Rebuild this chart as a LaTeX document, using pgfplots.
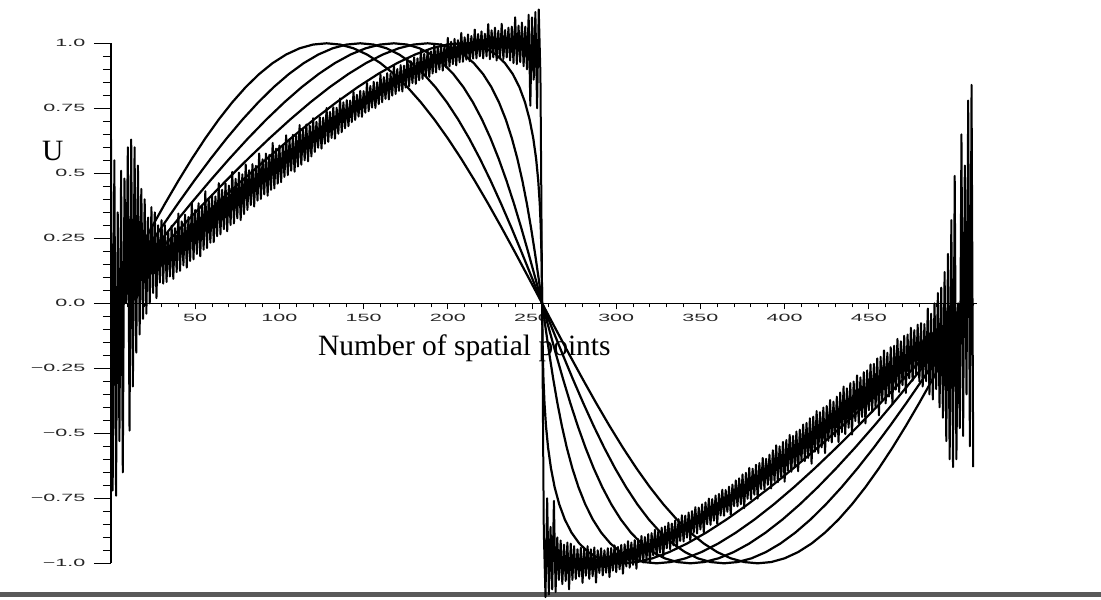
\documentclass[border=0pt]{standalone}
\usepackage{fontspec}
\setmainfont{Liberation Serif}
\newfontfamily\tickfont{Liberation Sans}
\usepackage{pgfplots}
\pgfplotsset{compat=1.18}

\begin{document}
\begin{tikzpicture}
\useasboundingbox (0pt,0pt) rectangle (1101pt,-600pt);
% rule along the foot of the page
\fill[black!65] (0pt,-592pt) rectangle (1101pt,-597pt);
\begin{axis}[
  at={(111pt,-303.3pt)}, anchor=origin,
  scale only axis, width=865.6pt, height=520pt,
  xmin=0, xmax=514, ymin=-1, ymax=1,
  axis lines=middle,
  every inner x axis line/.append style={-},
  every inner y axis line/.append style={-},
  axis line style={line width=1.2pt, black},
  clip=false,
  xtick={50,100,150,200,250,300,350,400,450},
  xticklabels={50,100,150,200,250,300,350,400,450},
  minor xtick={0,10,...,510},
  ytick={-1,-0.75,-0.5,-0.25,0,0.25,0.5,0.75,1},
  yticklabels={−1.0,−0.75,−0.5,−0.25,0.0,0.25,0.5,0.75,1.0},
  minor ytick={-1,-0.95,...,1},
  hide obscured x ticks=false, hide obscured y ticks=false,
  tick align=outside,
  major tick length=17pt, minor tick length=8pt,
  xtick style={/pgfplots/major tick length=6pt, /pgfplots/minor tick length=4pt},
  tick style={line width=0.9pt, black},
  tick label style={font=\tickfont\fontsize{10.5}{11}\selectfont, text=black!85, xscale=2.05, inner sep=0pt},
  xticklabel style={anchor=north, yshift=6pt},
  yticklabel style={anchor=east, xshift=-4pt},
  xlabel={Number of spatial points},
  xlabel style={at={(axis description cs:0.2391,0.40)}, anchor=base west, inner sep=0pt, font=\fontsize{29.5}{30}\selectfont},
  ylabel={U},
  ylabel style={at={(axis description cs:-0.0797,0.775)}, anchor=base west, rotate=0, inner sep=0pt, font=\fontsize{29.5}{30}\selectfont},
  no markers,
]
% t = 0
\addplot[black, line width=2.2pt, line join=round] coordinates {
(0,0) (8,0.0980) (16,0.1951) (24,0.2903) (32,0.3827) (40,0.4714) (48,0.5556) (56,0.6344) (64,0.7071) (72,0.7730) (80,0.8315) (88,0.8819) (96,0.9239) (104,0.9569) (112,0.9808) (120,0.9952) (128,1) (136,0.9952) (144,0.9808) (152,0.9569) (160,0.9239) (168,0.8819) (176,0.8315) (184,0.7730) (192,0.7071) (200,0.6344) (208,0.5556) (216,0.4714) (224,0.3827) (232,0.2903) (240,0.1951) (248,0.0980) (256,0)
(264,-0.0980) (272,-0.1951) (280,-0.2903) (288,-0.3827) (296,-0.4714) (304,-0.5556) (312,-0.6344) (320,-0.7071) (328,-0.7730) (336,-0.8315) (344,-0.8819) (352,-0.9239) (360,-0.9569) (368,-0.9808) (376,-0.9952) (384,-1) (392,-0.9952) (400,-0.9808) (408,-0.9569) (416,-0.9239) (424,-0.8819) (432,-0.8315) (440,-0.7730) (448,-0.7071) (456,-0.6344) (464,-0.5556) (472,-0.4714) (480,-0.3827) (488,-0.2903) (496,-0.1951) (504,-0.0980) (512,0)
};
% t = 20
\addplot[black, line width=2.2pt, line join=round] coordinates {
(0,0) (9.96,0.0980) (19.90,0.1951) (29.81,0.2903) (39.65,0.3827) (49.43,0.4714) (59.11,0.5556) (68.69,0.6344) (78.14,0.7071) (87.46,0.7730) (96.63,0.8315) (105.64,0.8819) (114.48,0.9239) (123.14,0.9569) (131.62,0.9808) (139.90,0.9952) (148,1) (155.90,0.9952) (163.62,0.9808) (171.14,0.9569) (178.48,0.9239) (185.64,0.8819) (192.63,0.8315) (199.46,0.7730) (206.14,0.7071) (212.69,0.6344) (219.11,0.5556) (225.43,0.4714) (231.65,0.3827) (237.81,0.2903) (243.90,0.1951) (249.96,0.0980) (256,0)
(262.04,-0.0980) (268.10,-0.1951) (274.19,-0.2903) (280.35,-0.3827) (286.57,-0.4714) (292.89,-0.5556) (299.31,-0.6344) (305.86,-0.7071) (312.54,-0.7730) (319.37,-0.8315) (326.36,-0.8819) (333.52,-0.9239) (340.86,-0.9569) (348.38,-0.9808) (356.10,-0.9952) (364,-1) (372.10,-0.9952) (380.38,-0.9808) (388.86,-0.9569) (397.52,-0.9239) (406.36,-0.8819) (415.37,-0.8315) (424.54,-0.7730) (433.86,-0.7071) (443.31,-0.6344) (452.89,-0.5556) (462.57,-0.4714) (472.35,-0.3827) (482.19,-0.2903) (492.10,-0.1951) (502.04,-0.0980) (512,0)
};
% t = 40
\addplot[black, line width=2.2pt, line join=round] coordinates {
(0,0) (11.92,0.0980) (23.80,0.1951) (35.61,0.2903) (47.31,0.3827) (58.86,0.4714) (70.22,0.5556) (81.38,0.6344) (92.28,0.7071) (102.92,0.7730) (113.26,0.8315) (123.28,0.8819) (132.96,0.9239) (142.28,0.9569) (151.23,0.9808) (159.81,0.9952) (168,1) (175.81,0.9952) (183.23,0.9808) (190.28,0.9569) (196.96,0.9239) (203.28,0.8819) (209.26,0.8315) (214.92,0.7730) (220.28,0.7071) (225.38,0.6344) (230.22,0.5556) (234.86,0.4714) (239.31,0.3827) (243.61,0.2903) (247.80,0.1951) (251.92,0.0980) (256,0)
(260.08,-0.0980) (264.20,-0.1951) (268.39,-0.2903) (272.69,-0.3827) (277.14,-0.4714) (281.78,-0.5556) (286.62,-0.6344) (291.72,-0.7071) (297.08,-0.7730) (302.74,-0.8315) (308.72,-0.8819) (315.04,-0.9239) (321.72,-0.9569) (328.77,-0.9808) (336.19,-0.9952) (344,-1) (352.19,-0.9952) (360.77,-0.9808) (369.72,-0.9569) (379.04,-0.9239) (388.72,-0.8819) (398.74,-0.8315) (409.08,-0.7730) (419.72,-0.7071) (430.62,-0.6344) (441.78,-0.5556) (453.14,-0.4714) (464.69,-0.3827) (476.39,-0.2903) (488.20,-0.1951) (500.08,-0.0980) (512,0)
};
% t = 60
\addplot[black, line width=2.2pt, line join=round] coordinates {
(0,0) (13.88,0.0980) (27.71,0.1951) (41.42,0.2903) (54.96,0.3827) (68.28,0.4714) (81.33,0.5556) (94.06,0.6344) (106.43,0.7071) (118.38,0.7730) (129.89,0.8315) (140.92,0.8819) (151.43,0.9239) (161.42,0.9569) (170.85,0.9808) (179.71,0.9952) (188,1) (195.71,0.9952) (202.85,0.9808) (209.42,0.9569) (215.43,0.9239) (220.92,0.8819) (225.89,0.8315) (230.38,0.7730) (234.43,0.7071) (238.06,0.6344) (241.33,0.5556) (244.28,0.4714) (246.96,0.3827) (249.42,0.2903) (251.71,0.1951) (253.88,0.0980) (256,0)
(258.12,-0.0980) (260.29,-0.1951) (262.58,-0.2903) (265.04,-0.3827) (267.72,-0.4714) (270.67,-0.5556) (273.94,-0.6344) (277.57,-0.7071) (281.62,-0.7730) (286.11,-0.8315) (291.08,-0.8819) (296.57,-0.9239) (302.58,-0.9569) (309.15,-0.9808) (316.29,-0.9952) (324,-1) (332.29,-0.9952) (341.15,-0.9808) (350.58,-0.9569) (360.57,-0.9239) (371.08,-0.8819) (382.11,-0.8315) (393.62,-0.7730) (405.57,-0.7071) (417.94,-0.6344) (430.67,-0.5556) (443.72,-0.4714) (457.04,-0.3827) (470.58,-0.2903) (484.29,-0.1951) (498.12,-0.0980) (512,0)
};
% t = 80
\addplot[black, line width=2.2pt, line join=round] coordinates {
(0,0) (15.84,0.0980) (31.61,0.1951) (47.22,0.2903) (62.61,0.3827) (77.71,0.4714) (92.45,0.5556) (106.75,0.6344) (120.57,0.7071) (133.84,0.7730) (146.52,0.8315) (158.55,0.8819) (169.91,0.9239) (180.56,0.9569) (190.46,0.9808) (199.61,0.9952) (208,1) (215.61,0.9952) (222.46,0.9808) (228.56,0.9569) (233.91,0.9239) (238.55,0.8819) (242.52,0.8315) (245.84,0.7730) (248.57,0.7071) (250.75,0.6344) (252.45,0.5556) (253.71,0.4714) (254.61,0.3827) (255.22,0.2903) (255.61,0.1951) (255.84,0.0980) (256,0)
(256.16,-0.0980) (256.39,-0.1951) (256.78,-0.2903) (257.39,-0.3827) (258.29,-0.4714) (259.55,-0.5556) (261.25,-0.6344) (263.43,-0.7071) (266.16,-0.7730) (269.48,-0.8315) (273.45,-0.8819) (278.09,-0.9239) (283.44,-0.9569) (289.54,-0.9808) (296.39,-0.9952) (304,-1) (312.39,-0.9952) (321.54,-0.9808) (331.44,-0.9569) (342.09,-0.9239) (353.45,-0.8819) (365.48,-0.8315) (378.16,-0.7730) (391.43,-0.7071) (405.25,-0.6344) (419.55,-0.5556) (434.29,-0.4714) (449.39,-0.3827) (464.78,-0.2903) (480.39,-0.1951) (496.16,-0.0980) (512,0)
};
% later time: oscillating solution after the shock has formed
\addplot[black, line width=2.0pt, line join=round] coordinates {
(0,0.63) (1,-0.72) (2,0.55) (3,-0.74) (4,0.35) (5,-0.53) (6,0.51) (7,-0.65) (8,0.48) (9,0.00)
(10,0.60) (11,-0.49) (12,0.63) (13,-0.32) (14,0.60) (15,-0.19) (16,0.53) (17,-0.12) (18,0.44) (19,-0.06)
(20,0.40) (21,-0.04) (22,0.33) (23,0.00) (24,0.37) (25,0.04) (26,0.35) (27,0.02) (28,0.30) (29,0.08)
(30,0.32) (31,0.076) (32,0.301) (33,0.082) (34,0.272) (35,0.103) (36,0.298) (37,0.094) (38,0.289) (39,0.120)
(40,0.345) (41,0.125) (42,0.315) (43,0.146) (44,0.341) (45,0.137) (46,0.332) (47,0.163) (48,0.388) (49,0.169)
(50,0.359) (51,0.190) (52,0.385) (53,0.181) (54,0.376) (55,0.206) (56,0.431) (57,0.212) (58,0.402) (59,0.233)
(60,0.418) (61,0.235) (62,0.411) (63,0.258) (64,0.462) (65,0.265) (66,0.437) (67,0.285) (68,0.461) (69,0.277)
(70,0.453) (71,0.301) (72,0.505) (73,0.307) (74,0.479) (75,0.327) (76,0.503) (77,0.320) (78,0.496) (79,0.343)
(80,0.534) (81,0.359) (82,0.512) (83,0.378) (84,0.535) (85,0.372) (86,0.529) (87,0.395) (88,0.576) (89,0.401)
(90,0.554) (91,0.419) (92,0.576) (93,0.414) (94,0.571) (95,0.436) (96,0.617) (97,0.442) (98,0.595) (99,0.460)
(100,0.607) (101,0.466) (102,0.604) (103,0.486) (104,0.646) (105,0.493) (106,0.628) (107,0.510) (108,0.648) (109,0.506)
(110,0.644) (111,0.526) (112,0.686) (113,0.533) (114,0.668) (115,0.550) (116,0.688) (117,0.546) (118,0.683) (119,0.565)
(120,0.712) (121,0.582) (122,0.698) (123,0.598) (124,0.716) (125,0.595) (126,0.714) (127,0.614) (128,0.751) (129,0.621)
(130,0.736) (131,0.636) (132,0.754) (133,0.633) (134,0.752) (135,0.652) (136,0.788) (137,0.658) (138,0.773) (139,0.673)
(140,0.781) (141,0.681) (142,0.780) (143,0.697) (144,0.813) (145,0.705) (146,0.802) (147,0.718) (148,0.817) (149,0.717)
(150,0.816) (151,0.733) (152,0.848) (153,0.739) (154,0.836) (155,0.753) (156,0.852) (157,0.751) (158,0.850) (159,0.766)
(160,0.881) (161,0.773) (162,0.870) (163,0.786) (164,0.885) (165,0.784) (166,0.883) (167,0.799) (168,0.914) (169,0.805)
(170,0.901) (171,0.817) (172,0.916) (173,0.815) (174,0.914) (175,0.830) (176,0.944) (177,0.835) (178,0.931) (179,0.847)
(180,0.946) (181,0.844) (182,0.942) (183,0.858) (184,0.972) (185,0.863) (186,0.959) (187,0.875) (188,0.973) (189,0.871)
(190,0.969) (191,0.884) (192,0.998) (193,0.888) (194,0.984) (195,0.899) (196,0.997) (197,0.895) (198,0.992) (199,0.907)
(200,1.021) (201,0.911) (202,1.006) (203,0.920) (204,1.017) (205,0.915) (206,1.012) (207,0.927) (208,1.040) (209,0.929)
(210,1.023) (211,0.937) (212,1.034) (213,0.931) (214,1.028) (215,0.941) (216,1.053) (217,0.942) (218,1.036) (219,0.950)
(220,1.046) (221,0.942) (222,1.037) (223,0.950) (224,1.074) (225,0.939) (226,1.050) (227,0.946) (228,1.060) (229,0.934)
(230,1.048) (231,0.943) (232,1.075) (233,0.940) (234,1.051) (235,0.946) (236,1.060) (237,0.934) (238,1.064) (239,0.924)
(240,1.100) (241,0.920) (242,1.068) (243,0.928) (244,1.080) (245,0.912) (246,1.064) (247,0.900) (248,1.110) (249,0.76)
(250,1.100) (251,0.86) (252,1.120) (253,0.75) (254,1.130) (255,0.88) (256,0)
(257,-0.88) (258,-1.130) (259,-0.75) (260,-1.120) (261,-0.86) (262,-1.100) (263,-0.76) (264,-1.110) (265,-0.900) (266,-1.064)
(267,-0.912) (268,-1.080) (269,-0.928) (270,-1.068) (271,-0.920) (272,-1.100) (273,-0.924) (274,-1.064) (275,-0.934) (276,-1.060)
(277,-0.946) (278,-1.051) (279,-0.940) (280,-1.075) (281,-0.943) (282,-1.048) (283,-0.934) (284,-1.060) (285,-0.946) (286,-1.050)
(287,-0.939) (288,-1.074) (289,-0.950) (290,-1.037) (291,-0.942) (292,-1.046) (293,-0.950) (294,-1.036) (295,-0.942) (296,-1.053)
(297,-0.941) (298,-1.028) (299,-0.931) (300,-1.034) (301,-0.937) (302,-1.023) (303,-0.929) (304,-1.040) (305,-0.927) (306,-1.012)
(307,-0.915) (308,-1.017) (309,-0.920) (310,-1.006) (311,-0.911) (312,-1.021) (313,-0.907) (314,-0.992) (315,-0.895) (316,-0.997)
(317,-0.899) (318,-0.984) (319,-0.888) (320,-0.998) (321,-0.884) (322,-0.969) (323,-0.871) (324,-0.973) (325,-0.875) (326,-0.959)
(327,-0.863) (328,-0.972) (329,-0.858) (330,-0.942) (331,-0.844) (332,-0.946) (333,-0.847) (334,-0.931) (335,-0.835) (336,-0.944)
(337,-0.830) (338,-0.914) (339,-0.815) (340,-0.916) (341,-0.817) (342,-0.901) (343,-0.805) (344,-0.914) (345,-0.799) (346,-0.883)
(347,-0.784) (348,-0.885) (349,-0.786) (350,-0.870) (351,-0.773) (352,-0.881) (353,-0.766) (354,-0.850) (355,-0.751) (356,-0.852)
(357,-0.753) (358,-0.836) (359,-0.739) (360,-0.848) (361,-0.733) (362,-0.816) (363,-0.717) (364,-0.817) (365,-0.718) (366,-0.802)
(367,-0.705) (368,-0.813) (369,-0.697) (370,-0.780) (371,-0.681) (372,-0.781) (373,-0.673) (374,-0.773) (375,-0.658) (376,-0.788)
(377,-0.652) (378,-0.752) (379,-0.633) (380,-0.754) (381,-0.636) (382,-0.736) (383,-0.621) (384,-0.751) (385,-0.614) (386,-0.714)
(387,-0.595) (388,-0.716) (389,-0.598) (390,-0.698) (391,-0.582) (392,-0.712) (393,-0.565) (394,-0.683) (395,-0.546) (396,-0.688)
(397,-0.550) (398,-0.668) (399,-0.533) (400,-0.686) (401,-0.526) (402,-0.644) (403,-0.506) (404,-0.648) (405,-0.510) (406,-0.628)
(407,-0.493) (408,-0.646) (409,-0.486) (410,-0.604) (411,-0.466) (412,-0.607) (413,-0.460) (414,-0.595) (415,-0.442) (416,-0.617)
(417,-0.436) (418,-0.571) (419,-0.414) (420,-0.576) (421,-0.419) (422,-0.554) (423,-0.401) (424,-0.576) (425,-0.395) (426,-0.529)
(427,-0.372) (428,-0.535) (429,-0.378) (430,-0.512) (431,-0.359) (432,-0.534) (433,-0.343) (434,-0.496) (435,-0.320) (436,-0.503)
(437,-0.327) (438,-0.479) (439,-0.307) (440,-0.505) (441,-0.301) (442,-0.453) (443,-0.277) (444,-0.461) (445,-0.285) (446,-0.437)
(447,-0.265) (448,-0.462) (449,-0.258) (450,-0.411) (451,-0.235) (452,-0.418) (453,-0.233) (454,-0.402) (455,-0.212) (456,-0.431)
(457,-0.206) (458,-0.376) (459,-0.181) (460,-0.385) (461,-0.190) (462,-0.359) (463,-0.169) (464,-0.388) (465,-0.163) (466,-0.332)
(467,-0.137) (468,-0.341) (469,-0.146) (470,-0.315) (471,-0.125) (472,-0.345) (473,-0.120) (474,-0.289) (475,-0.094) (476,-0.298)
(477,-0.103) (478,-0.272) (479,-0.082) (480,-0.301) (481,-0.076) (482,-0.32)
(483,-0.08) (484,-0.30) (485,-0.02) (486,-0.35) (487,-0.04) (488,-0.37) (489,0.00) (490,-0.33) (491,0.04) (492,-0.40)
(493,0.06) (494,-0.44) (495,0.12) (496,-0.53) (497,0.19) (498,-0.60) (499,0.32) (500,-0.63) (501,0.49) (502,-0.60)
(503,0.00) (504,-0.48) (505,0.65) (506,-0.51) (507,0.53) (508,-0.35) (509,0.78) (510,-0.55) (511,0.84) (512,-0.63)
};
\end{axis}
\end{tikzpicture}
\end{document}
